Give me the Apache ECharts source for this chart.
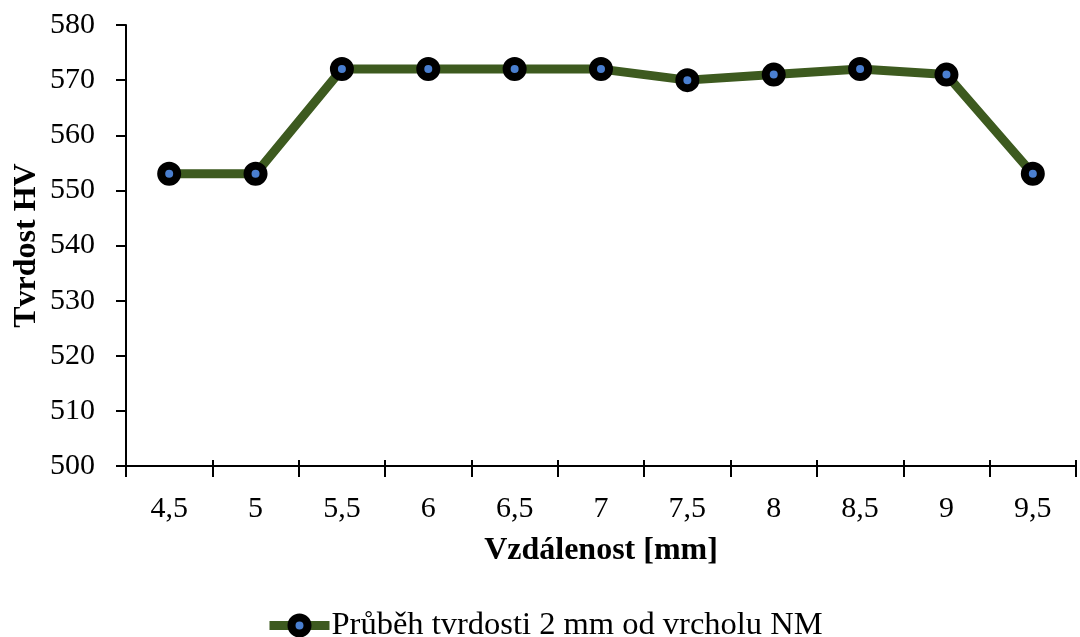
<!DOCTYPE html>
<html><head><meta charset="utf-8">
<script src="https://cdn.jsdelivr.net/npm/echarts@6/dist/echarts.min.js"></script>
<style>html,body{margin:0;padding:0;background:#fff}#c{width:1080px;height:637px}</style>
</head><body><div id="c"></div>
<script>
const categories = ['4,5','5','5,5','6','6,5','7','7,5','8','8,5','9','9,5'];
const hardness = [553,553,572,572,572,572,570,571,572,571,553];
const seriesName = 'Průběh tvrdosti 2 mm od vrcholu NM';
const yMin = 500, yMax = 580, yStep = 10;

const font = '"Liberation Serif","Times New Roman",serif';
const green = '#3D5A1F', blue = '#4A7FD0';
const chart = echarts.init(document.getElementById('c'));
chart.setOption({
  animation: false,
  backgroundColor: '#fff',
  grid: {left: 126, right: 4, top: 25, bottom: 171, containLabel: false, outerBoundsMode: 'none'},
  legend: {
    top: 604, left: 260, itemWidth: 60, itemHeight: 20, itemGap: 10,
    textStyle: {fontFamily: font, fontSize: 32.5, color: '#000', padding: [0,0,0,-3]},
    lineStyle: {color: green, width: 9},
    itemStyle: {color: blue, borderColor: '#000', borderWidth: 8},
    data: [seriesName]
  },
  xAxis: [{
    type: 'category', data: categories, boundaryGap: true,
    name: 'Vzdálenost [mm]', nameLocation: 'middle', nameGap: 69,
    nameTextStyle: {fontFamily: font, fontSize: 32, fontWeight: 'bold', color: '#000'},
    axisLine: {lineStyle: {color: '#000', width: 2}},
    axisTick: {show: true, length: 11, lineStyle: {color: '#000', width: 2}},
    axisLabel: {fontFamily: font, fontSize: 30, color: '#000', margin: 28},
    splitLine: {show: false}
  },{
    type: 'category', data: categories, boundaryGap: true, position: 'bottom',
    axisLine: {show: false},
    axisTick: {show: true, inside: true, length: 6, lineStyle: {color: '#000', width: 2}},
    axisLabel: {show: false}, splitLine: {show: false}
  }],
  yAxis: {
    type: 'value', min: yMin, max: yMax, interval: yStep,
    name: 'Tvrdost HV', nameLocation: 'middle', nameGap: 83, nameMoveOverlap: false,
    nameTextStyle: {fontFamily: font, fontSize: 32, fontWeight: 'bold', color: '#000'},
    axisLine: {show: true, lineStyle: {color: '#000', width: 2}},
    axisTick: {show: true, length: 10, lineStyle: {color: '#000', width: 2}},
    axisLabel: {fontFamily: font, fontSize: 30, color: '#000', margin: 31},
    splitLine: {show: false}
  },
  series: [{
    name: seriesName, type: 'line', data: hardness, xAxisIndex: 0,
    symbol: 'circle', symbolSize: 16,
    lineStyle: {color: green, width: 9},
    itemStyle: {color: blue, borderColor: '#000', borderWidth: 8},
    z: 3
  }]
});
</script></body></html>
